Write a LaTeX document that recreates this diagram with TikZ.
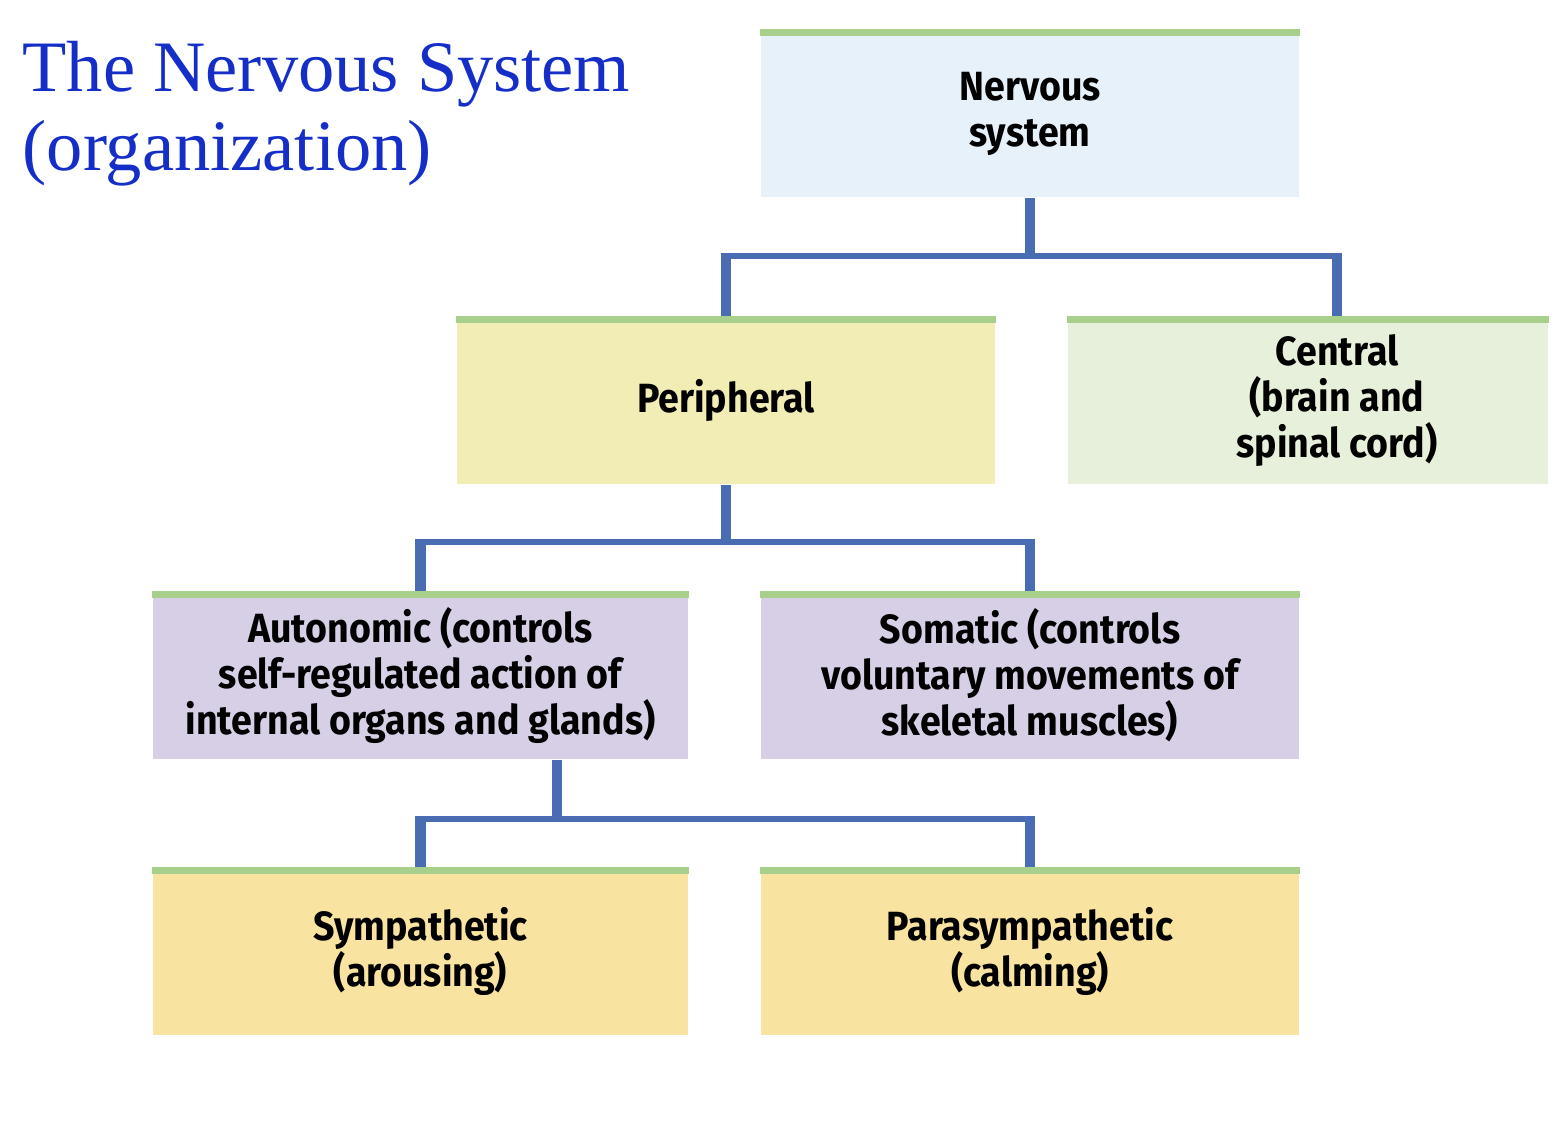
\documentclass[tikz,border=0pt]{standalone}
\usepackage{fontspec}
\setmainfont{Liberation Serif}
\newfontfamily\boxfont[FakeStretch=0.92]{Fira Sans}
\usetikzlibrary{calc}

\definecolor{titleblue}{RGB}{22,46,200}
\definecolor{topgreen}{RGB}{169,207,141}
\definecolor{linkblue}{RGB}{74,108,179}
\definecolor{fillnerv}{RGB}{230,241,250}
\definecolor{fillperi}{RGB}{242,237,180}
\definecolor{fillcent}{RGB}{231,240,218}
\definecolor{fillauto}{RGB}{214,207,230}
\definecolor{fillsymp}{RGB}{248,228,160}

\tikzset{
  txt/.style={inner sep=0pt, align=center,
    font=\boxfont\bfseries\fontsize{11.6}{13.1}\selectfont},
  box/.style={txt, minimum width=5.38cm, minimum height=1.67cm},
  vlink/.style={draw=linkblue, line width=2.9pt, shorten >=-0.03cm},
  hlink/.style={draw=linkblue, line width=1.7pt, shorten <=-0.05cm, shorten >=-0.05cm},
  title/.style={anchor=north west, inner sep=0pt, align=left, text=titleblue,
    font=\fontsize{20.6}{22.2}\selectfont}
}

\begin{document}
\begin{tikzpicture}[x=0.01cm,y=-0.01cm]
\useasboundingbox (0,0) rectangle (1556,1148);

% le titre
\node[title] (titre) at (22,41) {The Nervous System\\(organization)};

% les boites
\node[box, fill=fillnerv] (nerv) at (1030,113.5) {Nervous\\system};
\node[box, fill=fillperi] (peri) at (726,400.5) {Peripheral};
\node[box, fill=fillcent, minimum width=4.8cm] (cent) at (1308,400.5) {};
\node[txt] (centtxt) at (1337,400.5) {Central\\(brain and\\spinal cord)};
\node[box, fill=fillauto, minimum width=5.35cm] (auto) at (420.5,675.5) {Autonomic (controls\\self-regulated action of\\internal organs and glands)};
\node[box, fill=fillauto] (soma) at (1030,675.5) {Somatic (controls\\voluntary movements of\\skeletal muscles)};
\node[box, fill=fillsymp, minimum width=5.35cm] (symp) at (420.5,951.5) {Sympathetic\\(arousing)};
\node[box, fill=fillsymp] (para) at (1030,951.5) {Parasympathetic\\(calming)};

% les bandes vertes en haut
\foreach \n in {nerv,peri,cent,auto,soma,symp,para}
    \fill[topgreen] (\n.north west) rectangle ([yshift=-0.07cm]\n.north east);

% les points de jonction
\coordinate (j1) at ($(nerv.south)+(0,58)$);
\coordinate (j2) at ($(peri.south)+(0,57)$);
\coordinate (a0) at ([xshift=1.365cm]auto.south);
\coordinate (j3) at ($(a0)+(0,59)$);
\coordinate (c0) at (centtxt |- cent.north);

% les liaisons verticales
\draw[vlink] (nerv.south) -- (j1);
\draw[vlink] (peri.south) -- (j2);
\draw[vlink] (a0) -- (j3);
\foreach \n/\j in {peri/j1,c0/j1,auto/j2,soma/j2,symp/j3,para/j3}
    \draw[vlink] (\n.north) -- (\n.north |- \j);

% les liaisons horizontales
\draw[hlink] (peri.north |- j1) -- (c0 |- j1);
\draw[hlink] (auto.north |- j2) -- (soma.north |- j2);
\draw[hlink] (symp.north |- j3) -- (para.north |- j3);
\end{tikzpicture}
\end{document}
